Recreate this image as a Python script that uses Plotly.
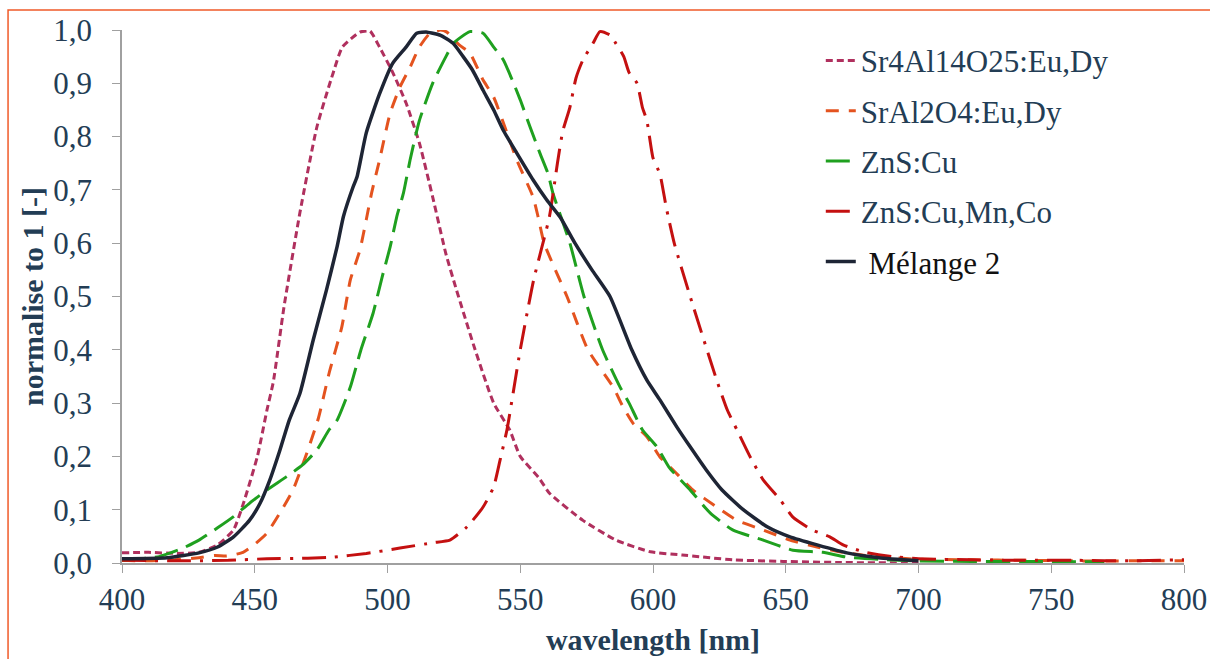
import plotly.graph_objects as go

# ---------------- data ----------------
sr4_x = [400, 410, 420, 429, 436, 442, 445.6, 451, 454.6, 457, 461, 467, 473.4, 479.5, 483, 489.6,
         493.4, 497, 502, 507, 512, 517, 522, 526, 533, 540, 546, 550, 557, 561, 573.6, 586, 599,
         611, 630, 649, 670, 700]
sr4_y = [0.019, 0.02, 0.018, 0.02, 0.034, 0.062, 0.11, 0.2, 0.287, 0.34, 0.48, 0.657, 0.818, 0.919,
         0.968, 0.996, 0.998, 0.968, 0.92, 0.863, 0.788, 0.687, 0.58, 0.512, 0.4, 0.3, 0.25, 0.2,
         0.16, 0.131, 0.08, 0.043, 0.021, 0.015, 0.006, 0.003, 0.001, 0.0]

sral_x = [400, 410, 420, 429, 435, 439.5, 445.6, 450, 454.6, 459.5, 464.4, 469.6, 474, 478, 482.8,
          486, 489.6, 492, 494, 497, 501, 504.7, 508.5, 512, 516, 520, 522.4, 527, 531, 536, 540,
          545, 548.7, 554.8, 556.7, 559, 567.6, 575.5, 585, 588.7, 592.5, 597.7, 602.6, 607.5, 615,
          624, 631.6, 641.5, 651.6, 661.8, 671.6, 680, 690, 700, 720, 740, 760, 780, 800]
sral_y = [0.005, 0.004, 0.006, 0.01, 0.014, 0.013, 0.02, 0.035, 0.056, 0.094, 0.137, 0.206, 0.272,
          0.356, 0.443, 0.531, 0.587, 0.644, 0.694, 0.756, 0.844, 0.893, 0.93, 0.968, 0.994, 1.0,
          0.996, 0.972, 0.957, 0.906, 0.874, 0.807, 0.756, 0.687, 0.65, 0.6, 0.5, 0.4, 0.33, 0.293,
          0.262, 0.237, 0.199, 0.175, 0.137, 0.105, 0.08, 0.062, 0.043, 0.03, 0.02, 0.014, 0.01,
          0.007, 0.006, 0.005, 0.004, 0.004, 0.004]

zns_x = [400, 414, 423, 429, 436, 442, 448, 454.6, 462, 468, 473.4, 478, 481, 486, 490, 494.6, 498,
         501, 503.5, 506, 508.5, 512, 517, 522, 524.8, 531, 536, 540, 543.6, 547, 550, 553.7, 557.4,
         560.5, 562.3, 568.7, 574, 581, 587.6, 591, 596, 601.5, 606, 614, 621.5, 630, 641.5, 652.7,
         664, 673, 685, 700, 720, 740, 770]
zns_y = [0.005, 0.012, 0.028, 0.043, 0.066, 0.087, 0.112, 0.137, 0.162, 0.184, 0.212, 0.25, 0.268,
         0.33, 0.4, 0.469, 0.537, 0.593, 0.65, 0.694, 0.756, 0.83, 0.9, 0.95, 0.975, 0.997, 0.994,
         0.968, 0.944, 0.906, 0.869, 0.818, 0.769, 0.73, 0.694, 0.6, 0.5, 0.4, 0.33, 0.3, 0.25,
         0.218, 0.18, 0.137, 0.094, 0.062, 0.043, 0.024, 0.02, 0.011, 0.007, 0.004, 0.003, 0.003,
         0.002]

znsm_x = [400, 420, 440, 454.6, 470, 479.5, 492, 504.7, 517, 523.5, 530, 536, 540, 542.4, 545, 550,
          555, 561, 564, 566, 568.7, 571, 573.6, 577.4, 580, 584, 586, 589, 591, 594, 596, 597.7,
          600, 602.6, 605, 608, 614, 624, 628, 631.6, 636.5, 641.5, 648, 652.7, 660, 666.6, 671.6,
          680, 690, 700, 720, 740, 760, 780, 800]
znsm_y = [0.005, 0.004, 0.005, 0.008, 0.009, 0.011, 0.018, 0.028, 0.038, 0.043, 0.068, 0.105, 0.143,
          0.193, 0.25, 0.4, 0.53, 0.65, 0.75, 0.81, 0.855, 0.91, 0.944, 0.975, 0.997, 0.99, 0.975,
          0.95, 0.92, 0.9, 0.855, 0.83, 0.76, 0.73, 0.667, 0.6, 0.5, 0.343, 0.287, 0.25, 0.2, 0.156,
          0.118, 0.086, 0.062, 0.049, 0.034, 0.02, 0.012, 0.008, 0.006, 0.005, 0.005, 0.004, 0.006]

mel_x = [400, 417, 429, 436, 442, 448, 452, 455.7, 459.5, 463, 467, 472, 477, 481, 483.4, 487, 488.5,
         492, 497, 502, 507, 511, 515, 520, 524.7, 528.5, 532, 536, 540, 543.6, 548.7, 554.8, 560,
         565, 570.6, 577, 583.8, 592, 597.7, 602.6, 609, 614, 620, 626, 634, 643, 651.6, 661.8, 673,
         685, 700]
mel_y = [0.008, 0.01, 0.019, 0.03, 0.049, 0.08, 0.112, 0.156, 0.212, 0.268, 0.318, 0.418, 0.512,
         0.593, 0.65, 0.705, 0.724, 0.807, 0.88, 0.938, 0.968, 0.994, 0.996, 0.99, 0.975, 0.95,
         0.925, 0.887, 0.85, 0.812, 0.769, 0.719, 0.681, 0.649, 0.6, 0.55, 0.5, 0.4, 0.343, 0.306,
         0.255, 0.218, 0.175, 0.137, 0.1, 0.068, 0.049, 0.034, 0.019, 0.01, 0.004]

series_names = ["Sr4Al14O25:Eu,Dy", "SrAl2O4:Eu,Dy", "ZnS:Cu", "ZnS:Cu,Mn,Co",
                "<span style='color:#111111'> Mélange 2</span>"]
x_ticks = [400, 450, 500, 550, 600, 650, 700, 750, 800]
y_ticks = [0.0, 0.1, 0.2, 0.3, 0.4, 0.5, 0.6, 0.7, 0.8, 0.9, 1.0]

# ---------------- figure ----------------
FONT = "Liberation Serif"
TXT = "#233D55"

styles = [
    dict(color="#B0305E", width=3, dash="7px,4px"),
    dict(color="#E4531F", width=3, dash="13px,10px"),
    dict(color="#1FA01F", width=3, dash="24px,9px"),
    dict(color="#C41010", width=3, dash="24px,9px,3px,9px"),
    dict(color="#1E2535", width=3.5),
]
data = [(sr4_x, sr4_y), (sral_x, sral_y), (zns_x, zns_y), (znsm_x, znsm_y), (mel_x, mel_y)]

fig = go.Figure()
for i, ((xs, ys), name, st) in enumerate(zip(data, series_names, styles)):
    fig.add_trace(go.Scatter(x=xs, y=ys, mode="lines", name=name,
                             line=dict(shape="spline", smoothing=0.5, **st), legendgroup=f"g{i}"))

fig.update_layout(
    width=1210, height=659,
    margin=dict(l=122, r=26, t=30, b=96),
    paper_bgcolor="white", plot_bgcolor="white",
    separators=", ",
    font=dict(family=FONT, color=TXT, size=30),
    showlegend=True,
    legend=dict(
        x=0.658, y=0.993, xanchor="left", yanchor="top",
        bgcolor="rgba(0,0,0,0)", font=dict(family=FONT, size=31, color=TXT),
        tracegroupgap=7, traceorder="grouped",
    ),
    xaxis=dict(
        range=[400, 800], tickvals=x_ticks, ticks="outside", ticklen=8, tickcolor="#A0A0A0",
        showline=True, linecolor="#A0A0A0", linewidth=1.5, showgrid=False, zeroline=False,
        automargin=False,
        tickfont=dict(family=FONT, size=31, color=TXT),
        title=dict(text="<b>wavelength [nm]</b>", font=dict(family=FONT, size=30, color=TXT), standoff=13),
    ),
    yaxis=dict(
        range=[0, 1.0], tickvals=y_ticks, tickformat=".1f", ticks="outside", ticklen=8,
        tickcolor="#A0A0A0", showline=True, linecolor="#A0A0A0", linewidth=1.5, showgrid=False,
        zeroline=False, automargin=False,
        tickfont=dict(family=FONT, size=31, color=TXT), ticklabelstandoff=14,
        title=dict(text="<b>normalise to 1 [-]</b>", font=dict(family=FONT, size=30, color=TXT), standoff=1),
    ),
)

# orange frame (partly cropped in the reference)
fig.add_shape(type="rect", xref="paper", yref="paper", x0=-0.1073, x1=1.3, y0=-0.5, y1=1.0375,
              line=dict(color="#F05A28", width=1.5), layer="below")

fig.write_html("out.html", config={"displayModeBar": False},
               post_script="document.body.style.margin='0';")
